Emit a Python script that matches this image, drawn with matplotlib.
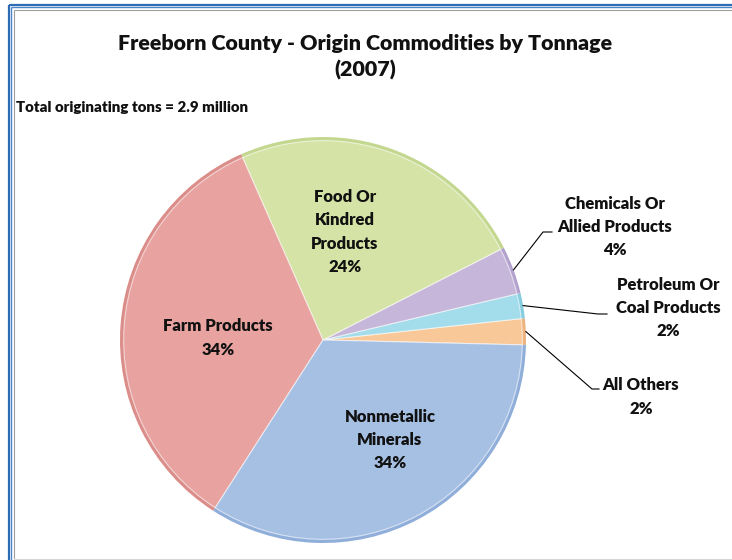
import matplotlib
matplotlib.use("Agg")
import matplotlib.pyplot as plt
import numpy as np

categories = ["All Others", "Petroleum Or\nCoal Products", "Chemicals Or\nAllied Products",
              "Food Or\nKindred\nProducts", "Farm Products", "Nonmetallic\nMinerals"]
shares = [2.1, 2.0, 3.8, 24.1, 34.3, 33.7]
colors = ["#F9C898", "#A3DCEA", "#C6B7DA", "#D5E4A6", "#E8A29F", "#A6C0E4"]
edge_colors = ["#EDB47F", "#86CDDF", "#B3A2CE", "#C4D78F", "#DB8D89", "#8FAEDA"]
title = "Freeborn County - Origin Commodities by Tonnage\n(2007)"
subtitle = "Total originating tons = 2.9 million"

plt.rcParams['font.family'] = ['Lato', 'DejaVu Sans']
W, H = 732, 560
fig = plt.figure(figsize=(W / 100, H / 100), dpi=100)
fig.patch.set_facecolor("white")

# frame (blue double line + gray inner line at left/top)
fax = fig.add_axes([0, 0, 1, 1])
fax.set_xlim(0, W)
fax.set_ylim(H, 0)
fax.axis("off")
fax.plot([8.5, 8.5], [H, 4.5], color="#2E6BB5", lw=1.6, solid_capstyle="butt")
fax.plot([8.5, W], [4.5, 4.5], color="#2E6BB5", lw=1.6, solid_capstyle="butt")
fax.plot([11, 11], [H, 7], color="#4A86C8", lw=1.0, solid_capstyle="butt")
fax.plot([11, W], [7, 7], color="#4A86C8", lw=1.0, solid_capstyle="butt")
fax.plot([13.5, 13.5], [H, 9.5], color="#A0A0A0", lw=0.8, solid_capstyle="butt")
fax.plot([13.5, W], [9.5, 9.5], color="#A0A0A0", lw=0.8, solid_capstyle="butt")
fax.plot([13.5, W], [H - 1, H - 1], color="#D8D8D8", lw=0.8)

WEIGHT = "heavy"
fax.text(365, 57, title, ha="center", va="center", fontsize=15.4, fontweight=WEIGHT,
         linespacing=1.4, color="#111111")
fax.text(16, 107, subtitle, ha="left", va="center", fontsize=10.8, fontweight=WEIGHT,
         color="#111111")

# pie
cx, cy, R = 323, 340, 203
ax = fig.add_axes([(cx - R) / W, (H - cy - R) / H, 2 * R / W, 2 * R / H])
ax.set_xlim(-1, 1)
ax.set_ylim(-1, 1)
ax.set_aspect("equal")
ax.axis("off")

start = -1.4
ax.pie(shares, colors=edge_colors, startangle=start, counterclock=True, radius=1.0,
       wedgeprops=dict(edgecolor="none"))
ax.pie(shares, colors=colors, startangle=start, counterclock=True, radius=0.982,
       wedgeprops=dict(edgecolor=(1, 1, 1, 0.6), linewidth=0.8))
ax.set_xlim(-1, 1)
ax.set_ylim(-1, 1)

def px2d(px, py):
    return (px - cx) / R, (cy - py) / R

angles = start + np.cumsum([0] + shares[:-1]) * 3.6 + np.array(shares) * 1.8
labels = [f"{c}\n{round(s):d}%" for c, s in zip(categories, shares)]

FS = 12.0
LS = 1.55
# inside labels
inside = {3: (345, 232), 4: (218, 338), 5: (390, 440)}
for i, (px, py) in inside.items():
    x, y = px2d(px, py)
    ax.text(x, y, labels[i], ha="center", va="center", fontsize=FS, fontweight=WEIGHT,
            linespacing=LS, color="#111111")

# outside labels with leader lines: (label center, elbow, end)
outside = {
    2: ((615, 227), (543, 232), (552, 232)),
    1: ((668, 308), (598, 314), (607, 314)),
    0: ((641, 397), (592, 389), (599, 389)),
}
for i, (lc, elbow, end) in outside.items():
    a = np.deg2rad(angles[i])
    x0, y0 = np.cos(a) * 1.0, np.sin(a) * 1.0
    ex, ey = px2d(*elbow)
    nx, ny = px2d(*end)
    ax.plot([x0, ex, nx], [y0, ey, ny], color="black", lw=0.8, clip_on=False)
    tx, ty = px2d(*lc)
    ax.text(tx, ty, labels[i], ha="center", va="center", fontsize=FS, fontweight=WEIGHT,
            linespacing=LS, color="#111111", clip_on=False)

fig.savefig("out.png", dpi=100, facecolor="white")
